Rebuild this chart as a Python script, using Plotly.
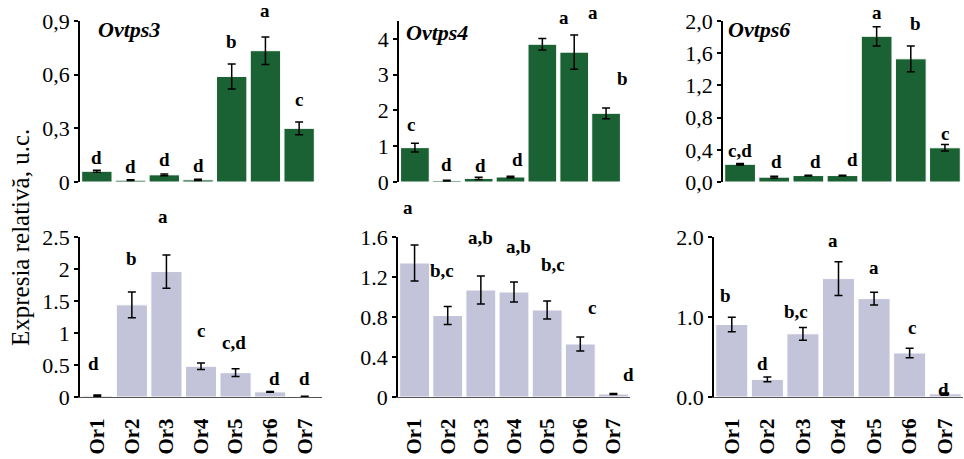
import plotly.graph_objects as go

W, H = 964, 459

categories = ["Or1", "Or2", "Or3", "Or4", "Or5", "Or6", "Or7"]

# ---- top row (green) ----
ovtps3_vals = [0.06, 0.01, 0.04, 0.012, 0.59, 0.734, 0.30]
ovtps3_err = [0.005, 0.002, 0.005, 0.004, 0.07, 0.077, 0.036]
ovtps3_letters = ["d", "d", "d", "d", "b", "a", "c"]

ovtps4_vals = [0.96, 0.04, 0.10, 0.14, 3.85, 3.63, 1.92]
ovtps4_err = [0.12, 0.01, 0.03, 0.02, 0.16, 0.48, 0.15]
ovtps4_letters = ["c", "d", "d", "d", "a", "a", "b"]

ovtps6_vals = [0.22, 0.06, 0.08, 0.08, 1.81, 1.53, 0.425]
ovtps6_err = [0.01, 0.01, 0.005, 0.005, 0.12, 0.16, 0.04]
ovtps6_letters = ["c,d", "d", "d", "d", "a", "b", "c"]

# ---- bottom row (lavender) ----
b1_vals = [0.02, 1.44, 1.96, 0.48, 0.38, 0.08, 0.01]
b1_err = [0.01, 0.20, 0.26, 0.05, 0.06, 0.005, 0.002]
b1_letters = ["d", "b", "a", "c", "c,d", "d", "d"]

b2_vals = [1.34, 0.815, 1.07, 1.05, 0.87, 0.53, 0.03]
b2_err = [0.18, 0.09, 0.14, 0.10, 0.09, 0.07, 0.005]
b2_letters = ["a", "b,c", "a,b", "a,b", "b,c", "c", "d"]

b3_vals = [0.906, 0.22, 0.79, 1.48, 1.23, 0.55, 0.04]
b3_err = [0.09, 0.03, 0.08, 0.21, 0.08, 0.06, 0.01]
b3_letters = ["b", "d", "b,c", "a", "a", "c", "d"]

gene_titles = ["Ovtps3", "Ovtps4", "Ovtps6"]

tick_vals_tl = [0, 0.3, 0.6, 0.9]
tick_text_tl = ["0", "0,3", "0,6", "0,9"]
tick_vals_tm = [0, 1, 2, 3, 4]
tick_text_tm = ["0", "1", "2", "3", "4"]
tick_vals_tr = [0, 0.4, 0.8, 1.2, 1.6, 2.0]
tick_text_tr = ["0,0", "0,4", "0,8", "1,2", "1,6", "2,0"]
tick_vals_bl = [0, 0.5, 1, 1.5, 2, 2.5]
tick_text_bl = ["0", "0.5", "1", "1.5", "2", "2.5"]
tick_vals_bm = [0, 0.4, 0.8, 1.2, 1.6]
tick_text_bm = ["0", "0.4", "0.8", "1.2", "1.6"]
tick_vals_br = [0, 1.0, 2.0]
tick_text_br = ["0.0", "1.0", "2.0"]

# ---- layout / styling (pixel geometry) ----
GREEN = "#1a6133"
LAVENDER = "#c3c3da"
SERIF = "Liberation Serif"

def px_x(a, b):
    return [a / W, b / W]

def px_y(top, bottom):
    return [1 - bottom / H, 1 - top / H]

# label nudges in pixels (dx, dy above error bar top), styling only
nudge_tl = [(0, 4), (0, 5), (0, 6), (0, 5), (0, 14), (0, 18), (0, 14)]
nudge_tm = [(-4, 10), (0, 7), (2, 3), (7, 8), (22, 13), (19, 14), (16, 21)]
nudge_tr = [(0, 4), (2, 6), (7, 5), (10, 7), (0, 6), (5, 14), (0, 3)]
nudge_bl = [(-4, 23), (0, 25), (-3, 30), (0, 24), (-2, 18), (4, 5), (0, 9)]
nudge_bm = [(-7, 29), (-6, 28), (0, 30), (4, 27), (6, 28), (12, 21), (15, 11)]
nudge_br = [(-6, 13), (-5, 5), (-7, 7), (-6, 13), (0, 16), (2, 12), (-2, -5)]

panels = [
    dict(vals=ovtps3_vals, err=ovtps3_err, letters=ovtps3_letters, color=GREEN,
         xd=px_x(80, 316), yd=px_y(21, 182), rng=[0, 0.9],
         tv=tick_vals_tl, tt=tick_text_tl, nudge=nudge_tl, bottom=False),
    dict(vals=ovtps4_vals, err=ovtps4_err, letters=ovtps4_letters, color=GREEN,
         xd=px_x(399, 622), yd=px_y(21, 182), rng=[0, 4.5],
         tv=tick_vals_tm, tt=tick_text_tm, nudge=nudge_tm, bottom=False),
    dict(vals=ovtps6_vals, err=ovtps6_err, letters=ovtps6_letters, color=GREEN,
         xd=px_x(723, 962), yd=px_y(21, 182), rng=[0, 2.0],
         tv=tick_vals_tr, tt=tick_text_tr, nudge=nudge_tr, bottom=False),
    dict(vals=b1_vals, err=b1_err, letters=b1_letters, color=LAVENDER,
         xd=px_x(80, 322), yd=px_y(237, 397), rng=[0, 2.5],
         tv=tick_vals_bl, tt=tick_text_bl, nudge=nudge_bl, bottom=True),
    dict(vals=b2_vals, err=b2_err, letters=b2_letters, color=LAVENDER,
         xd=px_x(398, 630), yd=px_y(237, 397), rng=[0, 1.6],
         tv=tick_vals_bm, tt=tick_text_bm, nudge=nudge_bm, bottom=True),
    dict(vals=b3_vals, err=b3_err, letters=b3_letters, color=LAVENDER,
         xd=px_x(714, 963), yd=px_y(237, 397), rng=[0, 2.0],
         tv=tick_vals_br, tt=tick_text_br, nudge=nudge_br, bottom=True),
]

fig = go.Figure()
annotations = []
layout = {}

for i, p in enumerate(panels, start=1):
    xa = "x" if i == 1 else f"x{i}"
    ya = "y" if i == 1 else f"y{i}"
    fig.add_trace(go.Bar(
        x=categories, y=p["vals"], xaxis=xa, yaxis=ya,
        marker=dict(color=p["color"], line=dict(color="white", width=1)),
        error_y=dict(type="data", array=p["err"], visible=True,
                     color="black", thickness=1.5, width=4),
        showlegend=False, hoverinfo="skip",
    ))
    xkey = "xaxis" if i == 1 else f"xaxis{i}"
    ykey = "yaxis" if i == 1 else f"yaxis{i}"
    layout[xkey] = dict(
        domain=p["xd"], anchor=ya, type="category", range=[-0.5, 6.5],
        showgrid=False, zeroline=False, automargin=False,
        showline=p["bottom"], linecolor="#555555", linewidth=1,
        ticks="", showticklabels=p["bottom"], tickangle=-90,
        ticklabelstandoff=12,
        tickfont=dict(family=SERIF, size=21, color="black", weight="bold"),
        fixedrange=True,
    )
    layout[ykey] = dict(
        domain=p["yd"], anchor=xa, range=p["rng"],
        showgrid=False, zeroline=False, automargin=False,
        showline=True, linecolor="black", linewidth=1.5,
        ticks="outside", ticklen=4, tickwidth=1.5, tickcolor="black",
        tickvals=p["tv"], ticktext=p["tt"],
        tickfont=dict(family=SERIF, size=22, color="black"),
        fixedrange=True,
    )
    for j, (cat, v, e, lt) in enumerate(zip(categories, p["vals"], p["err"], p["letters"])):
        dx, dy = p["nudge"][j]
        annotations.append(dict(
            x=cat, y=v + e, xref=xa, yref=ya, text=f"<b>{lt}</b>",
            showarrow=False, xanchor="center", yanchor="bottom",
            xshift=dx, yshift=dy - 4,
            font=dict(family=SERIF, size=19, color="black"),
        ))

# gene titles
title_pos = [(96, 30), (404, 33), (726, 30)]
for (tx, ty), t in zip(title_pos, gene_titles):
    annotations.append(dict(
        x=tx / W, y=1 - ty / H, xref="paper", yref="paper",
        text=f"<b><i>{t}</i></b>", showarrow=False,
        xanchor="left", yanchor="middle",
        font=dict(family=SERIF, size=22, color="black"),
    ))

# y axis title
annotations.append(dict(
    x=20 / W, y=1 - 238 / H, xref="paper", yref="paper",
    text="Expresia relativă, u.c.", showarrow=False, textangle=-90,
    xanchor="center", yanchor="middle",
    font=dict(family=SERIF, size=25, color="black"),
))

fig.update_layout(
    width=W, height=H,
    margin=dict(l=0, r=0, t=0, b=0),
    paper_bgcolor="white", plot_bgcolor="white",
    bargap=0.1,
    annotations=annotations,
    **layout,
)

fig.write_html(
    "out.html",
    config={"displayModeBar": False},
    post_script="document.body.style.margin='0px';document.body.style.overflow='hidden';",
)
